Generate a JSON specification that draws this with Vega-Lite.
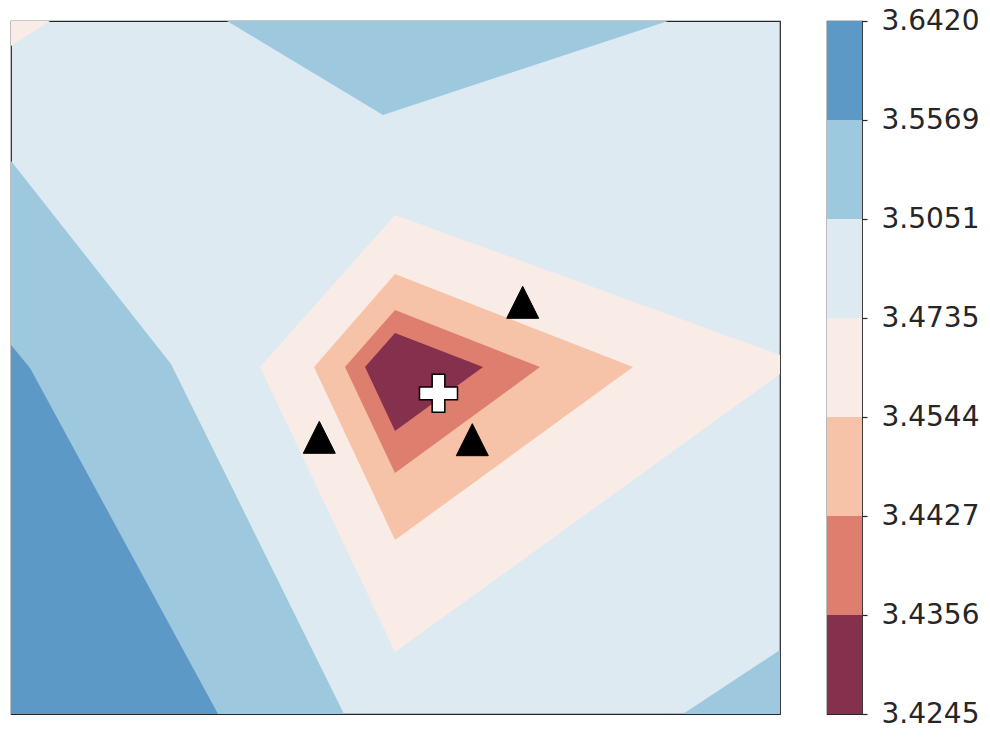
{
  "$schema": "https://vega.github.io/schema/vega-lite/v6.json",
  "background": "white",
  "padding": {"left": 10, "top": 6, "right": 5, "bottom": 5},
  "config": {"view": {"stroke": "#262626", "strokeWidth": 1.2}},
  "spacing": 45,
  "hconcat": [
    {
      "width": 769,
      "height": 693,
      "view": {"fill": "#ddeaf2", "stroke": "#262626", "strokeWidth": 1.2},
      "layer": [
        {
          "data": {"values": [
            {"poly": "p1", "i": 0, "x": 216, "y": 693, "band": "L5"},
            {"poly": "p1", "i": 1, "x": 657, "y": 693, "band": "L5"},
            {"poly": "p1", "i": 2, "x": 372, "y": 599, "band": "L5"},
            {"poly": "p2", "i": 0, "x": 0, "y": 553, "band": "L5"},
            {"poly": "p2", "i": 1, "x": 160, "y": 350, "band": "L5"},
            {"poly": "p2", "i": 2, "x": 333, "y": 0, "band": "L5"},
            {"poly": "p2", "i": 3, "x": 0, "y": 0, "band": "L5"},
            {"poly": "p3", "i": 0, "x": 0, "y": 369, "band": "L6"},
            {"poly": "p3", "i": 1, "x": 19, "y": 346, "band": "L6"},
            {"poly": "p3", "i": 2, "x": 207, "y": 0, "band": "L6"},
            {"poly": "p3", "i": 3, "x": 0, "y": 0, "band": "L6"},
            {"poly": "p4", "i": 0, "x": 769, "y": 64, "band": "L5"},
            {"poly": "p4", "i": 1, "x": 672, "y": 0, "band": "L5"},
            {"poly": "p4", "i": 2, "x": 769, "y": 0, "band": "L5"},
            {"poly": "p5", "i": 0, "x": 0, "y": 693, "band": "L3"},
            {"poly": "p5", "i": 1, "x": 39, "y": 693, "band": "L3"},
            {"poly": "p5", "i": 2, "x": 0, "y": 668, "band": "L3"},
            {"poly": "p6", "i": 0, "x": 384, "y": 499, "band": "L3"},
            {"poly": "p6", "i": 1, "x": 769, "y": 359, "band": "L3"},
            {"poly": "p6", "i": 2, "x": 769, "y": 340, "band": "L3"},
            {"poly": "p6", "i": 3, "x": 384, "y": 62, "band": "L3"},
            {"poly": "p6", "i": 4, "x": 249, "y": 347, "band": "L3"},
            {"poly": "p7", "i": 0, "x": 384, "y": 440, "band": "L2"},
            {"poly": "p7", "i": 1, "x": 622, "y": 347, "band": "L2"},
            {"poly": "p7", "i": 2, "x": 384, "y": 174, "band": "L2"},
            {"poly": "p7", "i": 3, "x": 303, "y": 347, "band": "L2"},
            {"poly": "p8", "i": 0, "x": 384, "y": 404, "band": "L1"},
            {"poly": "p8", "i": 1, "x": 529, "y": 347, "band": "L1"},
            {"poly": "p8", "i": 2, "x": 384, "y": 241, "band": "L1"},
            {"poly": "p8", "i": 3, "x": 334, "y": 347, "band": "L1"},
            {"poly": "p9", "i": 0, "x": 384, "y": 381, "band": "L0"},
            {"poly": "p9", "i": 1, "x": 472, "y": 347, "band": "L0"},
            {"poly": "p9", "i": 2, "x": 384, "y": 283, "band": "L0"},
            {"poly": "p9", "i": 3, "x": 354, "y": 347, "band": "L0"}
          ]},
          "mark": {"type": "line", "strokeWidth": 0, "strokeOpacity": 0},
          "encoding": {
            "x": {"field": "x", "type": "quantitative", "axis": null, "scale": {"domain": [0, 769], "nice": false, "zero": false}},
            "y": {"field": "y", "type": "quantitative", "axis": null, "scale": {"domain": [0, 693], "nice": false, "zero": false}},
            "order": {"field": "i", "type": "quantitative"},
            "detail": {"field": "poly", "type": "nominal"},
            "fill": {"field": "band", "type": "nominal", "legend": null,
              "scale": {"domain": ["L0", "L1", "L2", "L3", "L4", "L5", "L6"],
                        "range": ["#85304c", "#de7e6f", "#f6c3a9", "#f9ece6", "#ddeaf2", "#9dc8de", "#5d99c6"]}}
          }
        },
        {
          "data": {"values": [
            {"x": 511.7, "y": 411.7},
            {"x": 308.3, "y": 276.7},
            {"x": 461.3, "y": 274.3}
          ]},
          "mark": {"type": "point", "shape": "M0,-1L1,1L-1,1Z", "size": 1024, "filled": true, "fill": "black", "stroke": "black", "strokeWidth": 1, "opacity": 1},
          "encoding": {
            "x": {"field": "x", "type": "quantitative", "scale": {"domain": [0, 769], "nice": false, "zero": false}},
            "y": {"field": "y", "type": "quantitative", "scale": {"domain": [0, 693], "nice": false, "zero": false}}
          }
        },
        {
          "data": {"values": [
            {"x": 427.5, "y": 320.7}
          ]},
          "mark": {"type": "point", "shape": "M-1,-0.333L-0.333,-0.333L-0.333,-1L0.333,-1L0.333,-0.333L1,-0.333L1,0.333L0.333,0.333L0.333,1L-0.333,1L-0.333,0.333L-1,0.333Z", "size": 1444, "filled": true, "fill": "white", "stroke": "black", "strokeWidth": 1.5, "opacity": 1},
          "encoding": {
            "x": {"field": "x", "type": "quantitative", "scale": {"domain": [0, 769], "nice": false, "zero": false}},
            "y": {"field": "y", "type": "quantitative", "scale": {"domain": [0, 693], "nice": false, "zero": false}}
          }
        }
      ]
    },
    {
      "width": 35,
      "height": 693,
      "view": {"stroke": "#262626", "strokeWidth": 1.2},
      "data": {"values": [
        {"lo": 0, "hi": 1, "band": "L0"},
        {"lo": 1, "hi": 2, "band": "L1"},
        {"lo": 2, "hi": 3, "band": "L2"},
        {"lo": 3, "hi": 4, "band": "L3"},
        {"lo": 4, "hi": 5, "band": "L4"},
        {"lo": 5, "hi": 6, "band": "L5"},
        {"lo": 6, "hi": 7, "band": "L6"}
      ]},
      "mark": {"type": "rect"},
      "encoding": {
        "y": {"field": "lo", "type": "quantitative", "scale": {"domain": [0, 7], "nice": false, "zero": false},
          "axis": {"orient": "right", "values": [0, 1, 2, 3, 4, 5, 6, 7],
            "labelExpr": "['3.4245','3.4356','3.4427','3.4544','3.4735','3.5051','3.5569','3.6420'][datum.value]",
            "domain": false, "grid": false, "ticks": true, "tickSize": 5, "tickColor": "#262626", "tickWidth": 1.2,
            "labelFontSize": 28, "labelFont": "DejaVu Sans", "labelColor": "#262626", "labelPadding": 14,
            "labelBaseline": "middle", "labelFlush": false, "labelOverlap": false, "title": null}},
        "y2": {"field": "hi"},
        "fill": {"field": "band", "type": "nominal", "legend": null,
          "scale": {"domain": ["L0", "L1", "L2", "L3", "L4", "L5", "L6"],
                    "range": ["#85304c", "#de7e6f", "#f6c3a9", "#f9ece6", "#ddeaf2", "#9dc8de", "#5d99c6"]}}
      }
    }
  ]
}
